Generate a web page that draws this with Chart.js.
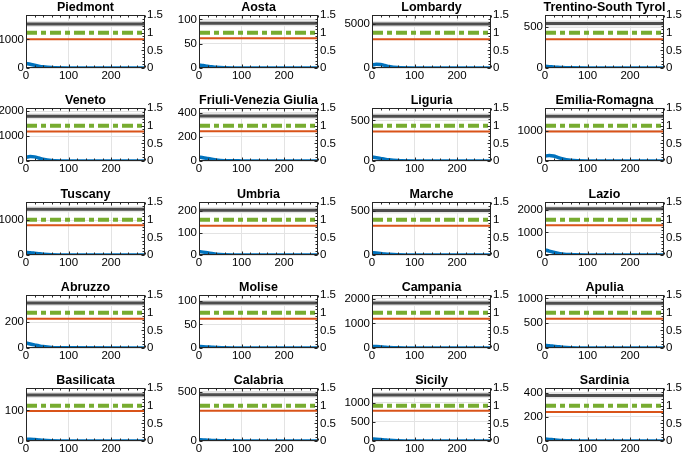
<!DOCTYPE html>
<html>
<head>
<meta charset="utf-8">
<script src="https://cdn.jsdelivr.net/npm/chart.js@4"></script>
<style>
  body { margin: 0; background: #fff; }
  #wrap { position: relative; width: 683px; height: 455px; overflow: hidden; }
  .cell { position: absolute; width: 191px; height: 87px; }
</style>
</head>
<body>
<div id="wrap"></div>
<script>
// data
const regions = ['Piedmont', 'Aosta', 'Lombardy', 'Trentino-South Tyrol',
  'Veneto', 'Friuli-Venezia Giulia', 'Liguria', 'Emilia-Romagna',
  'Tuscany', 'Umbria', 'Marche', 'Lazio',
  'Abruzzo', 'Molise', 'Campania', 'Apulia',
  'Basilicata', 'Calabria', 'Sicily', 'Sardinia'];
const leftMax = [1850, 109, 6030, 650, 2130, 440, 652, 1753, 1520, 241, 604, 2350,
  408, 112, 2150, 1070, 173, 540, 1380, 438];
const leftTicks = [[0, 1000], [0, 50, 100], [0, 5000], [0, 500],
  [0, 1000, 2000], [0, 200, 400], [0, 500], [0, 1000],
  [0, 1000], [0, 100, 200], [0, 500], [0, 1000, 2000],
  [0, 200], [0, 50, 100], [0, 1000, 2000], [0, 500, 1000],
  [0, 100], [0, 500], [0, 500, 1000], [0, 200, 400]];
const bedLevel = [1540, 92, 5000, 545, 1800, 373, 552, 1484, 1310, 203, 507, 2050,
  347, 95, 1830, 905, 150, 470, 1200, 377];
const alertLevel = [1000, 61, 3260, 354, 1190, 246, 364, 978, 853, 133, 333, 1318,
  226, 62, 1190, 590, 98, 308, 785, 240];
const rLevel = 1;
const days = [0, 10, 20, 30, 40, 60, 100, 280];
const cases = [
  [160, 130, 95, 65, 42, 15, 3, 0],
  [6, 5, 3.5, 2.5, 1.5, 0.5, 0, 0],
  [320, 430, 400, 290, 170, 50, 8, 0],
  [20, 16, 12, 8, 5, 2, 0, 0],
  [150, 180, 165, 120, 75, 25, 4, 0],
  [32, 27, 21, 15, 9, 3, 1, 0],
  [48, 41, 32, 22, 14, 5, 1, 0],
  [160, 185, 165, 120, 75, 25, 4, 0],
  [75, 65, 52, 38, 25, 9, 2, 0],
  [16, 13, 10, 7, 4, 1.5, 0, 0],
  [27, 22, 17, 12, 8, 3, 0, 0],
  [230, 170, 120, 80, 50, 18, 3, 0],
  [38, 31, 24, 17, 11, 4, 1, 0],
  [3, 2.7, 2.2, 1.7, 1.2, 0.4, 0, 0],
  [65, 56, 45, 33, 22, 8, 1, 0],
  [55, 47, 37, 27, 17, 6, 1, 0],
  [5, 6, 5, 3.5, 2.2, 1, 0, 0],
  [13, 11, 8, 6, 4, 1.5, 0, 0],
  [55, 47, 37, 27, 17, 6, 1, 0],
  [16, 13, 10, 7, 4.5, 1.5, 0, 0]
];
const xTicks = [0, 100, 200];
const rTicks = [0, 0.5, 1, 1.5];

// layout of the 5x4 grid (plot-area corners)
const colLeft = [26, 199, 372, 545];
const rowTop = [15, 108, 202, 295, 388];

// box, inward ticks and minor ticks like the original
const boxPlugin = {
  id: 'box',
  afterDatasetsDraw(chart) {
    const { ctx, chartArea: a, scales } = chart;
    const L = Math.round(a.left) + 0.5, R = Math.round(a.right) - 0.5;
    const T = Math.round(a.top) + 0.5, B = Math.round(a.bottom) - 0.5;
    ctx.save();
    ctx.strokeStyle = '#262626';
    ctx.lineWidth = 1;
    ctx.beginPath();
    // x major + minor, top and bottom
    for (let v = 0; v <= 280; v += 20) {
      const px = Math.round(scales.x.getPixelForValue(v)) + 0.5;
      const len = v % 100 === 0 ? 3 : 2;
      ctx.moveTo(px, B); ctx.lineTo(px, B - len);
      ctx.moveTo(px, T); ctx.lineTo(px, T + len);
    }
    // right axis minor
    for (let i = 0; i <= 15; i++) {
      const py = Math.round(scales.y1.getPixelForValue(i / 10)) + 0.5;
      const len = i % 5 === 0 ? 3 : 2;
      ctx.moveTo(R, py); ctx.lineTo(R - len, py);
    }
    // left major
    scales.y.ticks.forEach(t => {
      const py = Math.round(scales.y.getPixelForValue(t.value)) + 0.5;
      ctx.moveTo(L, py); ctx.lineTo(L + 3, py);
    });
    ctx.stroke();
    ctx.strokeRect(L, T, R - L, B - T);
    ctx.restore();
  }
};

const tickFont = { family: 'Liberation Sans, Arial, sans-serif', size: 11.5 };
const plain = v => String(v);
const wrap = document.getElementById('wrap');

regions.forEach((name, i) => {
  const row = Math.floor(i / 4), col = i % 4;
  const div = document.createElement('div');
  div.className = 'cell';
  div.style.left = (colLeft[col] - 36) + 'px';
  div.style.top = (rowTop[row] - 17) + 'px';
  const cv = document.createElement('canvas');
  cv.width = 191; cv.height = 87;
  div.appendChild(cv);
  wrap.appendChild(div);

  const lt = leftTicks[i];
  // first dataset is drawn on top in Chart.js
  new Chart(cv.getContext('2d'), {
    type: 'line',
    data: {
      datasets: [
        { data: days.map((d, k) => ({ x: d, y: cases[i][k] })),
          borderColor: '#0072BD', borderWidth: 3.5, pointRadius: 0,
          cubicInterpolationMode: 'monotone', yAxisID: 'y' },
        { data: [{ x: 0, y: alertLevel[i] }, { x: 280, y: alertLevel[i] }],
          borderColor: '#D95319', borderWidth: 2, pointRadius: 0, yAxisID: 'y' },
        { data: [{ x: 0, y: rLevel }, { x: 280, y: rLevel }],
          borderColor: '#77AC30', borderWidth: 4, borderDash: [11, 4, 5, 4],
          pointRadius: 0, yAxisID: 'y1' },
        { data: [{ x: 0, y: bedLevel[i] }, { x: 280, y: bedLevel[i] }],
          borderColor: '#4d4d4d', borderWidth: 3, pointRadius: 0, yAxisID: 'y' },
        { data: [{ x: 0, y: bedLevel[i] }, { x: 280, y: bedLevel[i] }],
          borderColor: '#e6e6e6', borderWidth: 6, pointRadius: 0, yAxisID: 'y' }
      ]
    },
    options: {
      responsive: false,
      animation: false,
      devicePixelRatio: 1,
      layout: { padding: 0 },
      plugins: {
        legend: { display: false },
        tooltip: { enabled: false },
        title: {
          display: true, text: name, color: '#000',
          font: { family: 'Liberation Sans, Arial, sans-serif', size: 12.5, weight: 'bold' },
          padding: { top: 2, bottom: 0 }
        }
      },
      scales: {
        x: {
          type: 'linear', min: 0, max: 280,
          afterBuildTicks: s => { s.ticks = xTicks.map(v => ({ value: v })); },
          afterFit: s => { s.height = 17; },
          grid: { color: '#e3e3e3', drawTicks: false },
          border: { display: false },
          ticks: { color: '#000', font: tickFont, padding: 1, maxRotation: 0, callback: plain }
        },
        y: {
          position: 'left', min: 0, max: leftMax[i],
          afterBuildTicks: s => { s.ticks = lt.map(v => ({ value: v })); },
          afterFit: s => { s.width = 36; },
          grid: { color: '#e3e3e3', drawTicks: false },
          border: { display: false },
          ticks: { color: '#000', font: tickFont, padding: 2, callback: plain }
        },
        y1: {
          position: 'right', min: 0, max: 1.5,
          afterBuildTicks: s => { s.ticks = rTicks.map(v => ({ value: v })); },
          afterFit: s => { s.width = 36; },
          grid: { display: false, drawTicks: false },
          border: { display: false },
          ticks: { color: '#000', font: tickFont, padding: 2, callback: plain }
        }
      }
    },
    plugins: [boxPlugin]
  });
});
</script>
</body>
</html>
